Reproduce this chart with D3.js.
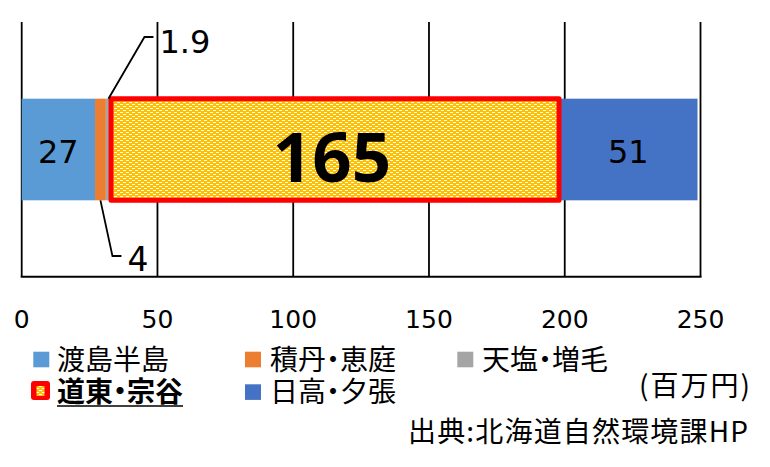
<!DOCTYPE html>
<html>
<head>
<meta charset="utf-8">
<script src="https://cdn.jsdelivr.net/npm/d3@7"></script>
<style>
html,body{margin:0;padding:0;background:#fff;}
svg{display:block;}
</style>
</head>
<body>
<svg id="chart" width="770" height="467"></svg>
<script>
// ---- data ----
const seriesNames = ["渡島半島", "積丹・恵庭", "天塩・増毛", "道東・宗谷", "日高・夕張"];
const seriesValues = [27, 4, 1.9, 165, 51];
const seriesColors = ["#5B9BD5", "#ED7D31", "#A5A5A5", "#FFC000", "#4472C4"];
const tickValues = [0, 50, 100, 150, 200, 250];
const unitLabel = "(百万円)";
const sourceLabel = "出典:北海道自然環境課HP";

(function () {
const svg = d3.select("#chart");
const defs = svg.append("defs");

// dotted pattern for highlighted series
const pat = defs.append("pattern").attr("id", "gold").attr("patternUnits", "userSpaceOnUse")
  .attr("width", 6).attr("height", 4);
pat.append("rect").attr("width", 6).attr("height", 4).attr("fill", "#FFC000");
pat.append("rect").attr("x", 0).attr("y", 0).attr("width", 3).attr("height", 1).attr("fill", "#fff");
pat.append("rect").attr("x", 3).attr("y", 2).attr("width", 3).attr("height", 1).attr("fill", "#fff");

const x = d3.scaleLinear().domain([0, 250]).range([21.7, 700.5]);
const y = d3.scaleBand().domain(["all"]).range([22, 277]).padding(0.43);

// grid lines
svg.append("g").selectAll("line").data(tickValues).join("line")
  .attr("x1", d => x(d)).attr("x2", d => x(d))
  .attr("y1", 22).attr("y2", 277)
  .attr("stroke", "#000").attr("stroke-width", 1.8);

// stacked data
const row = {};
seriesNames.forEach((n, i) => row[n] = seriesValues[i]);
const stack = d3.stack().keys(seriesNames)([row]);

const bars = svg.append("g");
let hl = null;
stack.forEach((s, i) => {
  const d = s[0];
  const r = bars.append("rect")
    .attr("x", x(d[0])).attr("width", x(d[1]) - x(d[0]))
    .attr("y", y("all")).attr("height", y.bandwidth());
  if (i === 3) {
    r.attr("fill", "url(#gold)").attr("stroke", "#FF0000").attr("stroke-width", 5)
     .attr("stroke-linejoin", "round");
    hl = r;
  } else {
    r.attr("fill", seriesColors[i]);
  }
});
hl.raise();

// bottom axis line
svg.append("line").attr("x1", x(0) - 1).attr("x2", x(250) + 1)
  .attr("y1", 276.7).attr("y2", 276.7).attr("stroke", "#000").attr("stroke-width", 2);

// tick labels
svg.append("g").selectAll("text").data(tickValues).join("text")
  .attr("x", d => x(d)).attr("y", 328)
  .attr("text-anchor", "middle")
  .attr("font-family", "DejaVu Sans").attr("font-size", 25).attr("fill", "#000")
  .text(d => d);

// data labels
const yMid = y("all") + y.bandwidth() / 2;
const mid = i => x((stack[i][0][0] + stack[i][0][1]) / 2);
const lbl = svg.append("g");
[0, 4].forEach(i => {
  lbl.append("text").attr("x", mid(i)).attr("y", yMid + 13)
    .attr("text-anchor", "middle").attr("font-family", "DejaVu Sans").attr("font-size", 32)
    .attr("fill", "#000").text(seriesValues[i]);
});
lbl.append("text").attr("x", mid(3) - 3).attr("y", 182)
  .attr("text-anchor", "middle").attr("font-family", "Noto Sans").attr("font-weight", "bold")
  .attr("font-size", 69).attr("fill", "#000").text(seriesValues[3]);

// callout for 天塩・増毛 (top)
const barTop = y("all"), barBot = y("all") + y.bandwidth();
const g2 = mid(2);
lbl.append("path")
  .attr("d", `M${g2},${barTop} L${g2 + 36},37 L${g2 + 45},37`)
  .attr("fill", "none").attr("stroke", "#000").attr("stroke-width", 1.8);
lbl.append("text").attr("x", g2 + 51).attr("y", 53)
  .attr("font-family", "DejaVu Sans").attr("font-size", 32).attr("fill", "#000")
  .text(seriesValues[2]);
// callout for 積丹・恵庭 (bottom)
const g1 = mid(1);
lbl.append("path")
  .attr("d", `M${g1},${barBot} L${g1 + 12},256 L${g1 + 21},256`)
  .attr("fill", "none").attr("stroke", "#000").attr("stroke-width", 1.8);
lbl.append("text").attr("x", g1 + 27).attr("y", 271)
  .attr("font-family", "DejaVu Sans").attr("font-size", 33).attr("fill", "#000")
  .text(seriesValues[1]);

// legend
const legendPos = [
  {mx: 33.3, my: 351.7, tx: 57, ty: 369.5},
  {mx: 245, my: 351.7, tx: 270, ty: 369.5},
  {mx: 457.3, my: 351.7, tx: 482, ty: 369.5},
  {mx: 31, my: 381, tx: 57, ty: 402},
  {mx: 245, my: 384.3, tx: 270, ty: 402}
];
const leg = svg.append("g");
seriesNames.forEach((n, i) => {
  const p = legendPos[i];
  if (i === 3) {
    leg.append("rect").attr("x", p.mx).attr("y", p.my).attr("width", 19).attr("height", 19)
      .attr("rx", 3).attr("fill", "#FF0000");
    leg.append("rect").attr("x", p.mx + 5.5).attr("y", p.my + 5).attr("width", 8).attr("height", 10)
      .attr("fill", "url(#gold)");
  } else {
    leg.append("rect").attr("x", p.mx).attr("y", p.my).attr("width", 16).attr("height", 15.6)
      .attr("fill", seriesColors[i]);
  }
  const t = leg.append("text").attr("x", p.tx).attr("y", p.ty)
    .attr("font-family", "Noto Sans CJK JP").attr("font-size", 28).attr("fill", "#000")
    .style("font-feature-settings", '"halt" 1')
    .text(n);
  if (i === 3) {
    t.attr("font-weight", "bold");
    const w = t.node().getComputedTextLength();
    leg.append("line").attr("x1", p.tx).attr("x2", p.tx + w).attr("y1", 406).attr("y2", 406)
      .attr("stroke", "#000").attr("stroke-width", 1.6);
  }
});

svg.append("text").attr("x", 639).attr("y", 396)
  .attr("font-family", "Noto Sans CJK JP").attr("font-size", 28).attr("fill", "#000")
  .attr("textLength", 111).attr("lengthAdjust", "spacing").text(unitLabel);
svg.append("text").attr("x", 408).attr("y", 442)
  .attr("font-family", "Noto Sans CJK JP").attr("font-size", 28).attr("fill", "#000")
  .attr("textLength", 340).attr("lengthAdjust", "spacing")
  .text(sourceLabel);
})();
</script>
</body>
</html>
